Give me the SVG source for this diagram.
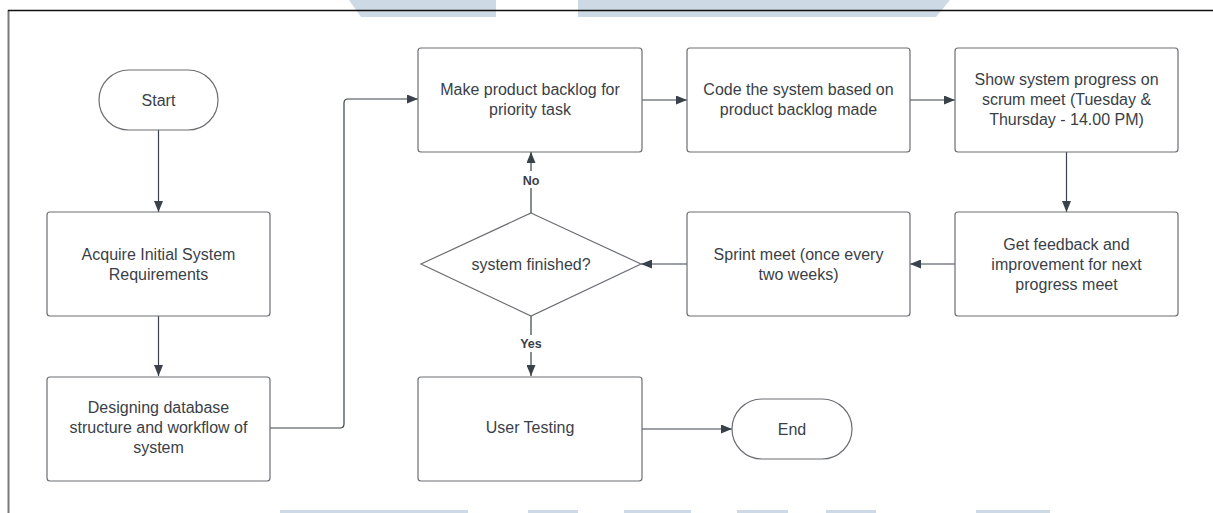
<svg xmlns="http://www.w3.org/2000/svg" width="1213" height="513" viewBox="0 0 1213 513">
<style>
.bg{fill:#ffffff}
.wm{fill:#cdd9e4}
.box{fill:#ffffff;stroke:#6b6e73;stroke-width:1.2}
.t{font-family:"Liberation Sans",Arial,sans-serif;font-size:16px;fill:#3a3f47;text-anchor:middle}
.lbl{font-family:"Liberation Sans",Arial,sans-serif;font-size:12.5px;font-weight:bold;fill:#3a3f47;text-anchor:middle}
.c{fill:none;stroke:#3a414a;stroke-width:1.2}
</style>
<defs>
<marker id="arr" viewBox="0 0 10 10" refX="10" refY="5" markerUnits="userSpaceOnUse" markerWidth="11" markerHeight="9" orient="auto" preserveAspectRatio="none">
<path d="M0,0 L10,5 L0,10 z" fill="#3a414a"/>
</marker>
</defs>
<rect class="bg" x="0" y="0" width="1213" height="513"/>
<g id="watermark">
<polygon class="wm" points="349,0 496,0 496,17 361,17"/>
<polygon class="wm" points="578,0 950,0 936,17 578,17"/>
<rect class="wm" x="280" y="510" width="188" height="3"/>
<rect class="wm" x="528" y="510" width="50" height="3"/>
<rect class="wm" x="624" y="510" width="67" height="3"/>
<rect class="wm" x="737" y="510" width="51" height="3"/>
<rect class="wm" x="826" y="510" width="50" height="3"/>
<rect class="wm" x="976" y="510" width="74" height="3"/>
</g>
<g id="frame">
<line x1="8.5" y1="10" x2="8.5" y2="513" stroke="#7a7a7a" stroke-width="2"/>
<line x1="8" y1="10.5" x2="1213" y2="10.5" stroke="#111111" stroke-width="1.6"/>
</g>
<g id="connectors">
<path class="c" d="M158.5,130 V212" marker-end="url(#arr)"/>
<path class="c" d="M158.5,316 V376" marker-end="url(#arr)"/>
<path class="c" d="M270,428 H340 Q344,428 344,424 V103 Q344,99 348,99 H418" marker-end="url(#arr)"/>
<path class="c" d="M641,100 H687" marker-end="url(#arr)"/>
<path class="c" d="M910,100 H955" marker-end="url(#arr)"/>
<path class="c" d="M1066.5,152 V212" marker-end="url(#arr)"/>
<path class="c" d="M955,264 H910" marker-end="url(#arr)"/>
<path class="c" d="M687,264 H641" marker-end="url(#arr)"/>
<path class="c" d="M531,213 V152" marker-end="url(#arr)"/>
<path class="c" d="M531,316 V376" marker-end="url(#arr)"/>
<path class="c" d="M642,429 H732" marker-end="url(#arr)"/>
<rect x="518" y="171" width="26" height="17" fill="#ffffff"/>
<text class="lbl" x="531" y="185">No</text>
<rect x="515" y="335" width="32" height="17" fill="#ffffff"/>
<text class="lbl" x="531" y="348">Yes</text>
</g>
<g id="start">
<rect class="box" x="99" y="70" width="119" height="60" rx="30" ry="30"/>
<text class="t" x="158.5" y="105.5">Start</text>
</g>
<g id="acquire">
<rect class="box" x="47" y="212" width="223" height="104" rx="3"/>
<text class="t" x="158.5" y="259.5">Acquire Initial System</text>
<text class="t" x="158.5" y="279.5">Requirements</text>
</g>
<g id="designing">
<rect class="box" x="47" y="377" width="223" height="104" rx="3"/>
<text class="t" x="158.5" y="412.5">Designing database</text>
<text class="t" x="158.5" y="432.5">structure and workflow of</text>
<text class="t" x="158.5" y="452.5">system</text>
</g>
<g id="backlog">
<rect class="box" x="418" y="48" width="224" height="104" rx="3"/>
<text class="t" x="530" y="94.5">Make product backlog for</text>
<text class="t" x="530" y="114.5">priority task</text>
</g>
<g id="code">
<rect class="box" x="687" y="48" width="223" height="104" rx="3"/>
<text class="t" x="798.5" y="94.5">Code the system based on</text>
<text class="t" x="798.5" y="114.5">product backlog made</text>
</g>
<g id="show">
<rect class="box" x="955" y="48" width="223" height="104" rx="3"/>
<text class="t" x="1066.5" y="84.5">Show system progress on</text>
<text class="t" x="1066.5" y="104.5">scrum meet (Tuesday &amp;</text>
<text class="t" x="1066.5" y="124.5">Thursday - 14.00 PM)</text>
</g>
<g id="feedback">
<rect class="box" x="955" y="212" width="223" height="104" rx="3"/>
<text class="t" x="1066.5" y="249.5">Get feedback and</text>
<text class="t" x="1066.5" y="269.5">improvement for next</text>
<text class="t" x="1066.5" y="289.5">progress meet</text>
</g>
<g id="sprint">
<rect class="box" x="687" y="212" width="223" height="104" rx="3"/>
<text class="t" x="798.5" y="259.5">Sprint meet (once every</text>
<text class="t" x="798.5" y="279.5">two weeks)</text>
</g>
<g id="decision">
<polygon class="box" points="531,213 641,264 531,316 421,264"/>
<text class="t" x="531" y="269.5">system finished?</text>
</g>
<g id="usertesting">
<rect class="box" x="418" y="377" width="224" height="104" rx="3"/>
<text class="t" x="530" y="432.5">User Testing</text>
</g>
<g id="end">
<rect class="box" x="732" y="399" width="120" height="60" rx="30" ry="30"/>
<text class="t" x="792" y="434.5">End</text>
</g>
</svg>
